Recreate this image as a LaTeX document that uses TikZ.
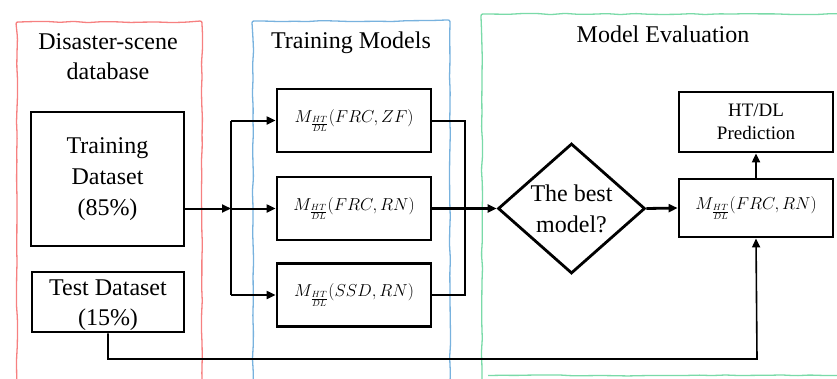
\documentclass[tikz,border=0pt]{standalone}
\usepackage{fontspec}
\setmainfont{Liberation Serif}
\usetikzlibrary{arrows.meta,shapes.geometric,decorations.pathmorphing}
\definecolor{framered}{RGB}{246,128,128}
\definecolor{frameblue}{RGB}{120,178,222}
\definecolor{framegreen}{RGB}{122,218,168}
\tikzset{
  box/.style = {draw, line width = 2.8pt, inner sep = 0pt, align = center, font = \fontsize{24}{31}\selectfont},
  modelbox/.style = {box, minimum width = 154pt, minimum height = 63pt, font = \fontsize{18}{23}\selectfont},
  wobbly/.style = {line width = 1.3pt, decorate, decoration = {random steps, segment length = 14pt, amplitude = 0.6pt}, rounded corners = 2pt},
  link/.style = {line width = 2pt, -{Triangle[length = 9pt, width = 8pt]}},
  title/.style = {font = \fontsize{24}{30}\selectfont, align = center}
}
\begin{document}
\begin{tikzpicture}[x = 1pt, y = -1pt]
	\useasboundingbox (0, 0) rectangle (837, 378);
	\pgfmathsetseed{7}
	\draw[wobbly, framered] (202, 385) -- (202, 22) -- (17, 22) -- (17, 385);
	\draw[wobbly, frameblue] (450, 385) -- (450, 21) -- (253, 21) -- (253, 385);
	\draw[wobbly, framegreen] (845, 14) -- (482, 14) -- (482, 385);
	\draw[wobbly, framegreen] (488, 375.5) -- (845, 375.5);
	\node[title] (dbtitle) at (108, 57) {Disaster-scene\\database};
	\node[title] (trtitle) at (351, 43) {Training Models};
	\node[title] (evtitle) at (663, 34) {Model Evaluation};
	\node[box, minimum width = 153pt, minimum height = 134pt] (td) at (107.5, 179) {Training\\Dataset\\(85\%)};
	\node[box, minimum width = 152pt, minimum height = 60pt] (test) at (108, 302) {};
	\node[title] (testtext) at (108, 305) {Test Dataset\\(15\%)};
	\node[modelbox] (m1) at (354, 120.5) {$M_{\frac{HT}{DL}}(FRC,ZF)$};
	\node[modelbox] (m2) at (354, 208.5) {$M_{\frac{HT}{DL}}(FRC,RN)$};
	\node[modelbox] (m3) at (354, 295) {$M_{\frac{HT}{DL}}(SSD,RN)$};
	\node[box, diamond, minimum width = 147pt, minimum height = 123pt] (best) at (571.5, 208.5) {The best\\model?};
	\node[modelbox, minimum height = 58pt] (sel) at (756, 208) {$M_{\frac{HT}{DL}}(FRC,RN)$};
	\node[box, minimum width = 154pt, minimum height = 60pt, font = \fontsize{19}{23}\selectfont] (pred) at (756, 122) {HT/DL\\Prediction};
	\coordinate (split) at (231, 208.5);
	\coordinate (join) at (465, 208.5);
	\coordinate (low) at (757, 359);
	\draw[link] (td.east |- m2) -- (split);
	\draw[line width = 2pt] (split |- m1) -- (split |- m3);
	\foreach \m in {m1, m2, m3}
		\draw[link] (split |- \m) -- (\m.west);
	\draw[line width = 2pt] (m1.east) -| (join) |- (m3.east);
	\draw[link, line width = 2.8pt] (m2.east) -- (best.west);
	\draw[link, line width = 2.8pt] (best.east) -- (sel.west);
	\draw[link] (sel.north) -- (pred.south);
	\draw[link, line width = 1.6pt] (test.south) |- (low) -- (sel.south);
\end{tikzpicture}
\end{document}
